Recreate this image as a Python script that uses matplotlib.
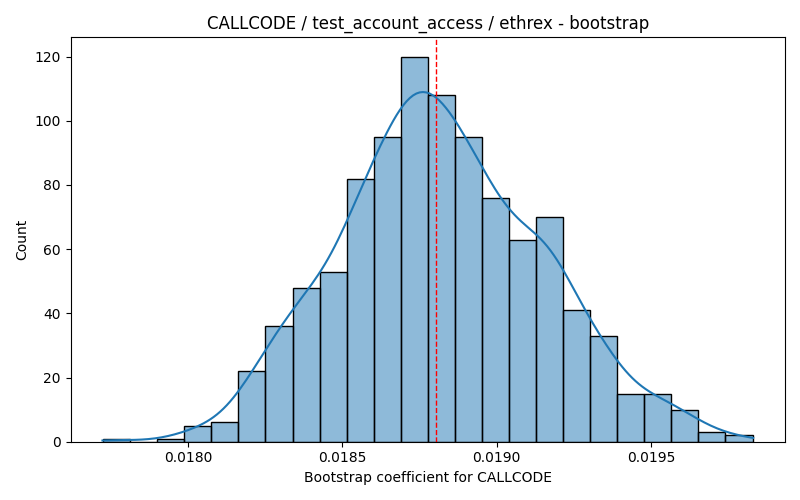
import numpy as np
import pandas as pd
import matplotlib
matplotlib.use("Agg")
import matplotlib.pyplot as plt
import seaborn as sns

# Bin edges and counts (24 bins, n=1000)
bin_lo = 0.0177246
bin_hi = 0.019829
counts = [1, 0, 1, 5, 6, 22, 36, 48, 53, 82, 95, 120,
          108, 95, 76, 63, 70, 41, 33, 15, 15, 10, 3, 2]
point_estimate = 0.018802

edges = np.linspace(bin_lo, bin_hi, len(counts) + 1)
centers = (edges[:-1] + edges[1:]) / 2
df = pd.DataFrame({"coef": centers, "n": counts})

fig, ax = plt.subplots(figsize=(8, 5), dpi=100)
# weighted KDE sees few points, so shrink bandwidth to that of n=1000 samples
sns.histplot(data=df, x="coef", weights="n", bins=list(edges), kde=True,
             kde_kws={"bw_adjust": 0.4, "cut": 0.35},
             ax=ax, color="#1f77b4", edgecolor="black")
ax.axvline(point_estimate, color="red", linestyle="--", linewidth=1)

span = bin_hi - bin_lo
ax.set_xlim(bin_lo - 0.05 * span, bin_hi + 0.05 * span)

ax.set_title("CALLCODE / test_account_access / ethrex - bootstrap")
ax.set_xlabel("Bootstrap coefficient for CALLCODE")
ax.set_ylabel("Count")

plt.tight_layout()
plt.savefig("out.png", dpi=100)
